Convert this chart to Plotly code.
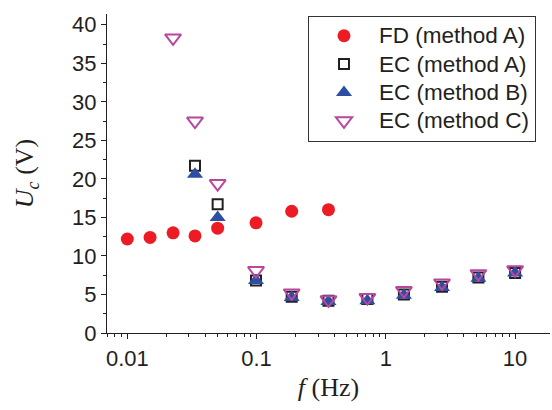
import plotly.graph_objects as go

# Data
f_fd = [0.01, 0.015, 0.0226, 0.0334, 0.05, 0.099, 0.187, 0.36]
u_fd = [12.2, 12.4, 13.0, 12.6, 13.6, 14.3, 15.8, 16.0]

f_ec = [0.0334, 0.05, 0.099, 0.187, 0.36, 0.72, 1.38, 2.72, 5.2, 10.0]
u_ec_a = [21.7, 16.7, 6.8, 4.7, 4.2, 4.4, 5.0, 6.0, 7.2, 7.8]
u_ec_b = [20.6, 15.0, 6.8, 4.6, 4.1, 4.2, 4.9, 5.9, 7.1, 7.8]

f_ec_c = [0.0226, 0.0334, 0.05, 0.099, 0.187, 0.36, 0.72, 1.38, 2.72, 5.2, 10.0]
u_ec_c = [38.3, 27.5, 19.4, 8.1, 5.2, 4.3, 4.6, 5.5, 6.5, 7.7, 8.2]

names = ["FD (method A)", "EC (method A)", "EC (method B)", "EC (method C)"]

x_tickvals = [0.01, 0.1, 1, 10]
x_ticktext = ["0.01", "0.1", "1", "10"]
x_minor = [k * 10 ** e for e in (-3, -2, -1, 0, 1) for k in range(2, 10)]


def leg(name):
    return '<span style="font-size:22.5px">' + name + "</span>"


fig = go.Figure()
fig.add_trace(go.Scatter(x=f_fd, y=u_fd, mode="markers", name=leg(names[0]),
                         marker=dict(symbol="circle", size=13, color="#ED1C24",
                                     line=dict(width=0))))
fig.add_trace(go.Scatter(x=f_ec, y=u_ec_a, mode="markers", name=leg(names[1]),
                         marker=dict(symbol="square-open", size=10, color="#231F20",
                                     line=dict(width=2, color="#231F20"))))
fig.add_trace(go.Scatter(x=f_ec, y=u_ec_b, mode="markers", name=leg(names[2]),
                         marker=dict(symbol="triangle-up", size=14, color="#2D4EA2",
                                     line=dict(width=0))))
fig.add_trace(go.Scatter(x=f_ec_c, y=u_ec_c, mode="markers", name=leg(names[3]),
                         marker=dict(symbol="triangle-down-open", size=14, color="#B8479E",
                                     line=dict(width=2, color="#B8479E"))))

axis_color = "#231F20"
serif = "Liberation Serif, Times New Roman, serif"
fig.update_layout(
    width=552, height=410,
    margin=dict(l=107, r=2, t=14, b=77),
    paper_bgcolor="white", plot_bgcolor="white",
    font=dict(family="Liberation Sans, Arial, sans-serif", size=22, color=axis_color),
    showlegend=True,
    legend=dict(x=0.4537, y=0.995, xanchor="left", yanchor="top",
                bgcolor="white", bordercolor="#333333", borderwidth=1,
                font=dict(size=19.5), itemwidth=60),
    xaxis=dict(type="log", range=[-2.157, 1.27],
               tickmode="array", tickvals=x_tickvals, ticktext=x_ticktext,
               ticks="outside", ticklen=5, tickwidth=1.2, tickcolor=axis_color,
               showline=True, linecolor=axis_color, linewidth=1.2,
               showgrid=False, zeroline=False,
               minor=dict(tickmode="array", tickvals=x_minor, ticks="outside",
                          ticklen=3, tickwidth=1.2, tickcolor=axis_color, showgrid=False),
               title=dict(text="<i>f</i> (Hz)", standoff=8,
                          font=dict(family=serif, size=26))),
    yaxis=dict(range=[0, 41.4], tickmode="linear", tick0=0, dtick=5,
               ticks="outside", ticklen=5, tickwidth=1.2, tickcolor=axis_color,
               showline=True, linecolor=axis_color, linewidth=1.2,
               showgrid=False, zeroline=False,
               minor=dict(dtick=2.5, ticks="outside", ticklen=3, tickwidth=1.2,
                          tickcolor=axis_color, showgrid=False),
               title=dict(text="<i>U</i><sub><i>c</i></sub> (V)", standoff=30,
                          font=dict(family=serif, size=26))),
)

fig.write_html("out.html")
